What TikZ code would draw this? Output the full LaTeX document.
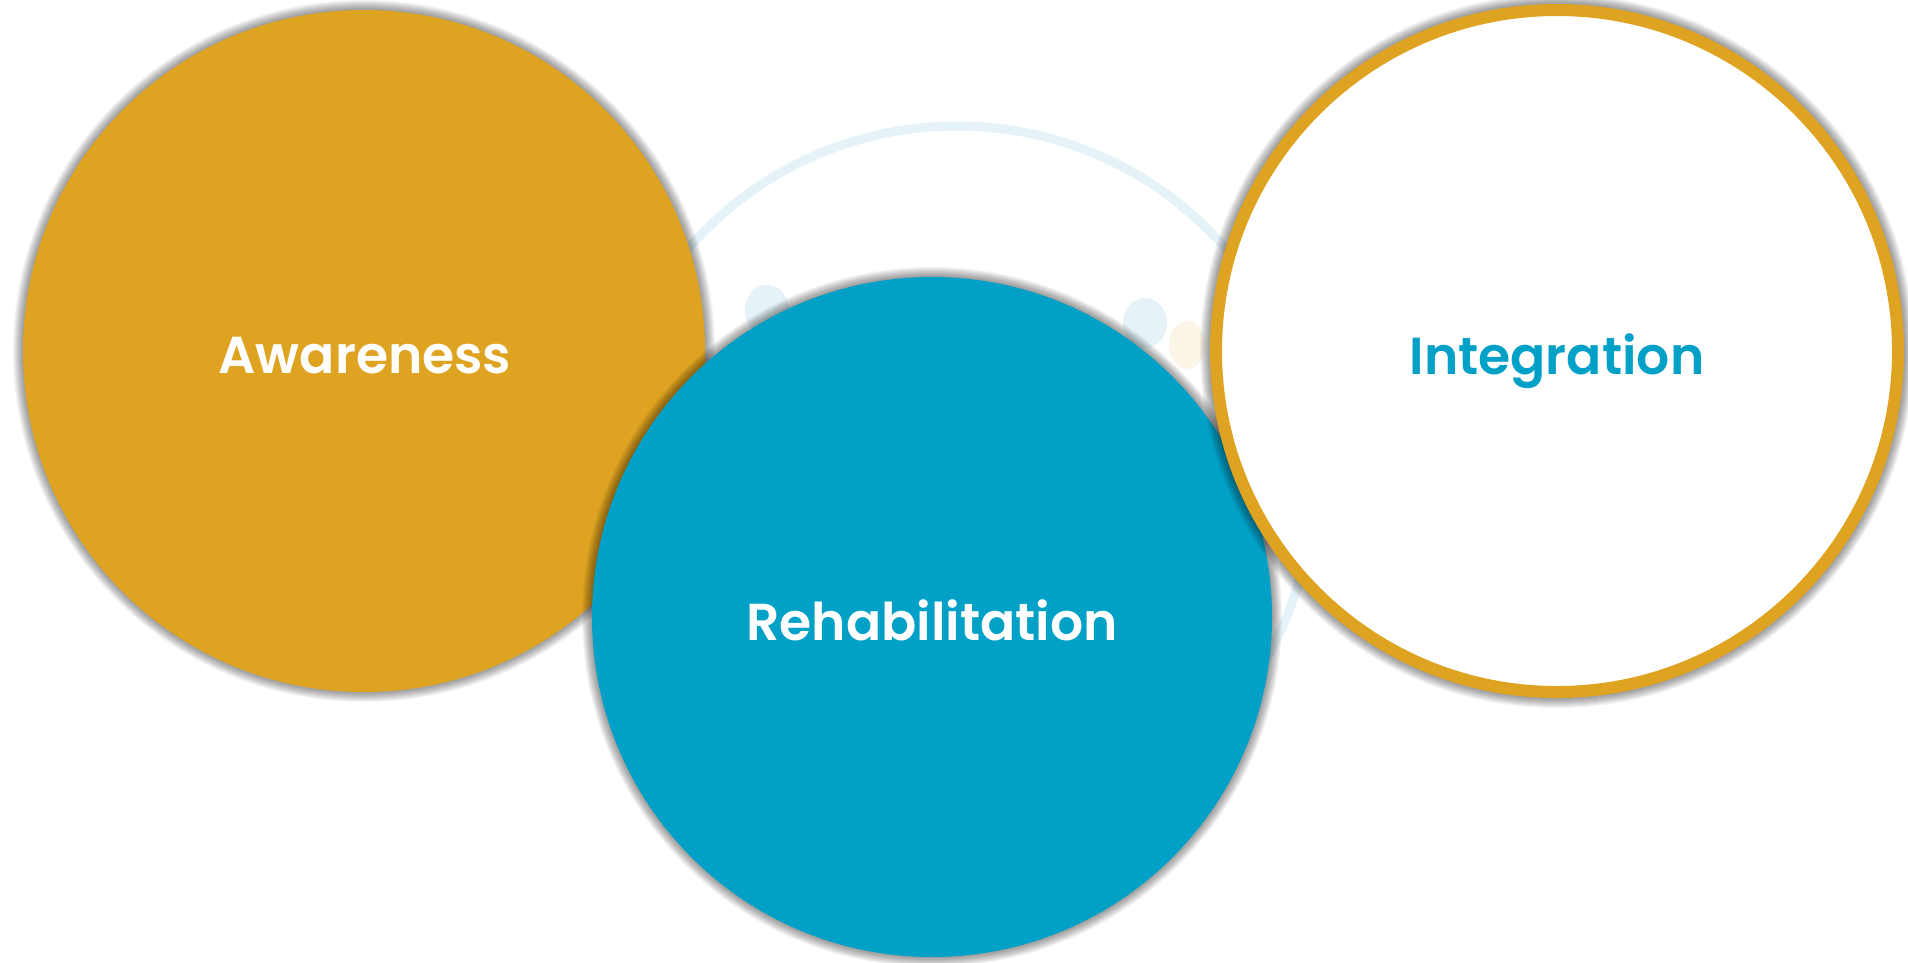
\documentclass[tikz,border=0pt]{standalone}
\usepackage{fontspec}
\setmainfont{Poppins}[BoldFont={* SemiBold}]
\begin{document}
\begin{tikzpicture}[x=1pt,y=-1pt,
  ring/.style={circle, minimum size=682pt, inner sep=0pt, draw=none},
  lbl/.style={anchor=base, inner sep=0pt, font=\fontsize{52}{60}\selectfont\bfseries},
  faint/.style={fill=paleblue}]
\definecolor{goldc}{HTML}{DFA322}
\definecolor{bluec}{HTML}{01A1C7}
\definecolor{paleblue}{HTML}{E5F3F8}
\definecolor{palebeige}{HTML}{FBF5E8}
\useasboundingbox (0,0) rectangle (1908,962);
\fill[white] (0,0) rectangle (1908,962);
% faint background artwork
\coordinate (bg) at (957,482);
\draw[paleblue, line width=9pt] (bg) circle (356);
\fill[faint] (767,310) ellipse (22 and 25);
\fill[faint] (1145,323) ellipse (22 and 25);
\fill[palebeige] (1187,345) ellipse (18 and 24);
% circle centres
\coordinate (ca) at (364,351);
\coordinate (cr) at (932,617);
\coordinate (ci) at (1557,351);
% Awareness
\foreach \i in {1,...,10} \fill[black, opacity=0.045] (ca) circle (341+\i);
\node[ring, fill=goldc] (aw) at (ca) {};
% Rehabilitation
\foreach \i in {1,...,10} \fill[black, opacity=0.045] (cr) circle (340+\i);
\node[ring, minimum size=680pt, fill=bluec] (rh) at (cr) {};
% Integration
\foreach \i in {1,...,10} \fill[black, opacity=0.045] (ci) circle (347+\i);
\node[ring, fill=white, draw=goldc, line width=12pt] (ig) at (ci) {};
% labels
\node[lbl, text=white] (awt) at (365,373) {Awareness};
\node[lbl, text=white] (rht) at (932,640) {Rehabilitation};
\node[lbl, text=bluec] (igt) at (1557,374) {Integration};
\end{tikzpicture}
\end{document}
